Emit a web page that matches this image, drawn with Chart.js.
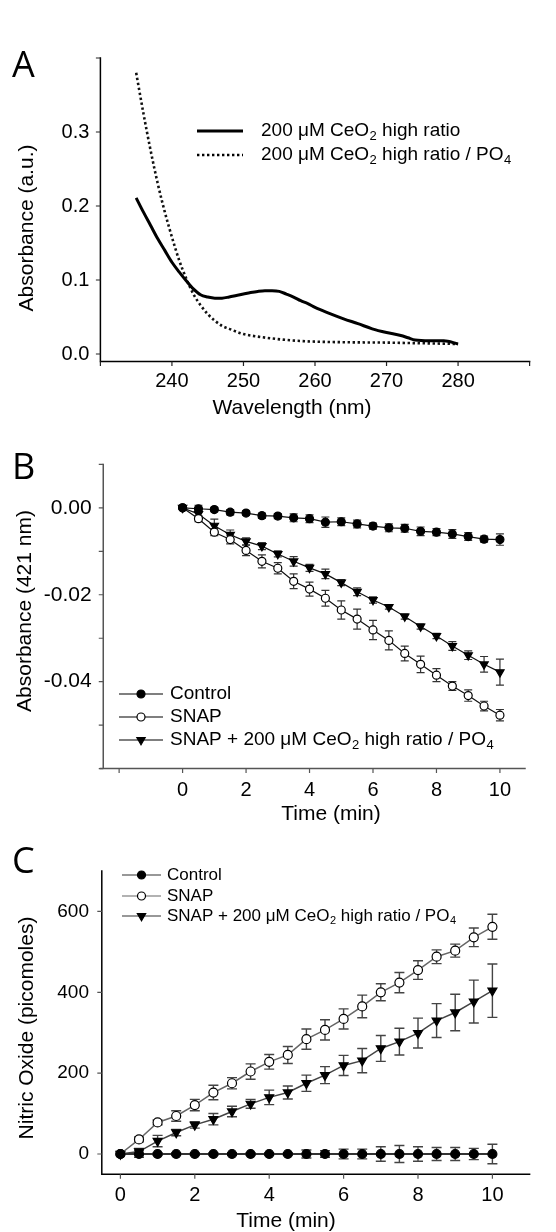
<!DOCTYPE html>
<html><head><meta charset="utf-8">
<script src="https://cdn.jsdelivr.net/npm/chart.js@4.4.1/dist/chart.umd.min.js"></script>
<style>
html,body{margin:0;padding:0;background:#fff}
body{width:556px;height:1232px;position:relative;overflow:hidden}
canvas{position:absolute;left:0}
</style></head><body>
<canvas id="cA" width="556" height="425" style="top:0px"></canvas>
<canvas id="cB" width="556" height="405" style="top:425px"></canvas>
<canvas id="cC" width="556" height="402" style="top:830px"></canvas>
<script>
// ---------- Panel A data ----------
const aSolidWl  = [235,236,237,238,239,240,241,242,243,244,245,246,247,248,249,250,251,252,253,254,255,256,257,258,259,260,262,264,266,268,270,272,273,274,276,278,280];
const aSolidAbs = [0.211,0.192,0.174,0.156,0.140,0.124,0.111,0.099,0.088,0.080,0.077,0.0755,0.0755,0.077,0.079,0.081,0.083,0.0846,0.0855,0.0855,0.0846,0.081,0.077,0.072,0.068,0.063,0.055,0.0475,0.041,0.034,0.029,0.025,0.022,0.019,0.018,0.018,0.0136];
const aDotWl    = [235,236,237,238,239,240,241,242,243,244,245,246,247,248,250,252,254,256,258,260,265,270,275,280];
const aDotAbs   = [0.38,0.326,0.276,0.231,0.192,0.158,0.127,0.102,0.081,0.066,0.054,0.045,0.038,0.034,0.027,0.0235,0.021,0.019,0.0176,0.0167,0.0158,0.0154,0.0145,0.0136];
const aSeries   = ['200 μM CeO₂ high ratio','200 μM CeO₂ high ratio / PO₄'];
const aXTicks   = [230,240,250,260,270,280,290];
const aXLabels  = ['','240','250','260','270','280',''];
const aYTicks   = [0,0.1,0.2,0.3,0.4];
const aYLabels  = ['0.0','0.1','0.2','0.3',''];

// ---------- Panel B / C shared ----------
const timeMin = [0,0.5,1,1.5,2,2.5,3,3.5,4,4.5,5,5.5,6,6.5,7,7.5,8,8.5,9,9.5,10];
const groups  = ['Control','SNAP','SNAP + 200 μM CeO₂ high ratio / PO₄'];

// ---------- Panel B data ----------
const bControl    = [0,-0.0002,-0.0004,-0.001,-0.0012,-0.0018,-0.0019,-0.0023,-0.0025,-0.0033,-0.0032,-0.0037,-0.0042,-0.0046,-0.0047,-0.0054,-0.0056,-0.006,-0.0066,-0.0072,-0.0073];
const bControlErr = [0,0.0008,0.0005,0.0006,0.0005,0.0006,0.0006,0.0009,0.0009,0.0012,0.0009,0.0009,0.0007,0.0009,0.0009,0.001,0.0008,0.001,0.0009,0.0007,0.0013];
const bSnap       = [0,-0.0025,-0.0056,-0.0073,-0.0098,-0.0123,-0.0139,-0.0169,-0.0187,-0.0208,-0.0235,-0.0256,-0.0281,-0.0305,-0.0335,-0.036,-0.0385,-0.041,-0.0432,-0.0456,-0.0477];
const bSnapErr    = [0,0.0007,0.0008,0.001,0.0012,0.0015,0.0013,0.0017,0.0016,0.0018,0.0021,0.0023,0.0022,0.0022,0.0017,0.0019,0.0015,0.001,0.0013,0.0011,0.0013];
const bCeo        = [0,-0.0014,-0.0041,-0.0062,-0.0077,-0.0088,-0.0106,-0.0123,-0.0138,-0.0152,-0.0172,-0.0193,-0.0212,-0.0228,-0.025,-0.0273,-0.0295,-0.0318,-0.0339,-0.036,-0.0378];
const bCeoErr     = [0,0.0008,0.0015,0.0011,0.0008,0.0008,0.0007,0.0011,0.0008,0.0011,0.0007,0.0009,0.0007,0.0005,0.0006,0.0006,0.0006,0.001,0.001,0.0018,0.003];
const bXTicks  = [-2,0,2,4,6,8,10];
const bXLabels = ['','0','2','4','6','8','10'];
const bYTicks  = [0.01,0,-0.01,-0.02,-0.03,-0.04,-0.05,-0.06];
const bYLabels = ['','0.00','','-0.02','','-0.04','',''];

// ---------- Panel C data ----------
const cControl    = [0,0,0,0,0,0,0,0,0,0,0,0,0,0,0,0,0,0,0,0,0];
const cControlErr = [0,8,3,3,3,3,3,3,3,3,10,8,12,12,18,21,18,16,16,14,24];
const cSnap       = [0,36,78,94,121,152,175,204,228,245,284,307,334,365,400,424,455,488,503,536,562];
const cSnapErr    = [0,6,6,13,14,18,14,19,18,21,25,25,25,28,21,25,23,17,16,23,31];
const cCeo        = [0,6,32,53,72,86,105,124,140,152,175,195,219,231,261,278,299,330,350,377,404];
const cCeoErr     = [0,8,14,8,8,14,13,11,18,16,20,21,25,30,32,33,37,42,45,53,66];
const cXTicks  = [0,2,4,6,8,10];
const cXLabels = ['0','2','4','6','8','10'];
const cYTicks  = [0,200,400,600];
const cYLabels = ['0','200','400','600'];

// ---------- helpers ----------
const FONT = "'Liberation Sans', Arial, sans-serif";
const SUB = '₀₁₂₃₄₅₆₇₈₉';
function pts(xs, ys){ return xs.map((x,i)=>({x:x, y:ys[i]})); }

function drawRich(ctx, text, x, y, size, color){
  ctx.fillStyle = color; ctx.textAlign = 'left'; ctx.textBaseline = 'middle';
  let run = '', cx = x;
  const flush = () => { if(run){ ctx.font = size+'px '+FONT; ctx.fillText(run, cx, y); cx += ctx.measureText(run).width; run=''; } };
  for (const ch of text){
    const k = SUB.indexOf(ch);
    if (k >= 0){
      flush();
      const s = Math.round(size*0.66);
      ctx.font = s+'px '+FONT;
      ctx.fillText(String(k), cx+0.5, y + size*0.28);
      cx += ctx.measureText(String(k)).width + 0.5;
    } else run += ch;
  }
  flush();
}

function marker(ctx, style, x, y, r){
  ctx.save();
  ctx.lineWidth = 1.2; ctx.strokeStyle = '#000';
  ctx.fillStyle = style === 'open' ? '#fff' : '#000';
  Chart.helpers.drawPoint(ctx, {pointStyle: style==='tri' ? 'triangle' : 'circle', rotation: style==='tri' ? 180 : 0, radius: r, borderWidth: 1.2}, x, y);
  ctx.restore();
}

const deco = {
  id: 'deco',
  beforeDatasetsDraw(chart, args, o){
    const ctx = chart.ctx, xs = chart.scales.x, ys = chart.scales.y, ca = chart.chartArea;
    const yAxX = (o.yAxisAt === undefined) ? ca.left : xs.getPixelForValue(o.yAxisAt);
    ctx.save();
    ctx.lineCap = 'square';
    ctx.strokeStyle = o.axisColor; ctx.lineWidth = o.axisWidth;
    ctx.beginPath();
    ctx.moveTo(ca.left, ca.bottom); ctx.lineTo(ca.right, ca.bottom);
    ctx.moveTo(yAxX, ca.top); ctx.lineTo(yAxX, ca.bottom);
    ctx.stroke();
    ctx.lineCap = 'butt';
    ctx.strokeStyle = o.tickColor; ctx.lineWidth = 1.2;
    ctx.beginPath();
    xs.ticks.forEach(t => { const p = xs.getPixelForValue(t.value); ctx.moveTo(p, ca.bottom); ctx.lineTo(p, ca.bottom + o.tickLen); });
    ys.ticks.forEach(t => { const p = ys.getPixelForValue(t.value); ctx.moveTo(yAxX - o.tickLen, p); ctx.lineTo(yAxX, p); });
    ctx.stroke();
    // error bars
    chart.data.datasets.forEach(ds => {
      if (!ds.errors) return;
      ctx.strokeStyle = ds.errorColor; ctx.lineWidth = ds.errorWidth;
      ctx.beginPath();
      ds.data.forEach((p, j) => {
        const e = ds.errors[j]; if (!e) return;
        const x = xs.getPixelForValue(p.x);
        const y1 = ys.getPixelForValue(p.y + e), y2 = ys.getPixelForValue(p.y - e);
        const c = ds.errorCap;
        ctx.moveTo(x, y1); ctx.lineTo(x, y2);
        ctx.moveTo(x - c, y1); ctx.lineTo(x + c, y1);
        ctx.moveTo(x - c, y2); ctx.lineTo(x + c, y2);
      });
      ctx.stroke();
    });
    ctx.restore();
  },
  afterDraw(chart, args, o){
    const ctx = chart.ctx, off = o.offset;
    ctx.save();
    // panel letter
    ctx.fillStyle = '#000'; ctx.textAlign = 'left'; ctx.textBaseline = 'alphabetic';
    ctx.font = o.letter.size + "px 'Open Sans', 'Liberation Sans', sans-serif";
    ctx.fillText(o.letter.text, o.letter.x, o.letter.y - off);
    // x title
    ctx.font = o.xTitle.size + 'px ' + FONT; ctx.textAlign = 'center'; ctx.textBaseline = 'middle';
    ctx.fillText(o.xTitle.text, o.xTitle.x, o.xTitle.y - off);
    // y title
    ctx.save();
    ctx.translate(o.yTitle.x, o.yTitle.y - off); ctx.rotate(-Math.PI/2);
    ctx.font = o.yTitle.size + 'px ' + FONT;
    ctx.fillText(o.yTitle.text, 0, 0);
    ctx.restore();
    // legend
    const L = o.legend;
    L.items.forEach((it, i) => {
      const y = L.rows[i] - off;
      ctx.save();
      ctx.strokeStyle = it.lineColor || '#000'; ctx.lineWidth = it.lineWidth || 1.2;
      if (it.dash) ctx.setLineDash(it.dash);
      ctx.beginPath(); ctx.moveTo(L.x1, y); ctx.lineTo(L.x2, y); ctx.stroke();
      ctx.restore();
      if (it.marker) marker(ctx, it.marker, (L.x1 + L.x2)/2, y, it.r);
      drawRich(ctx, it.label, L.tx, y, L.size, '#000');
    });
    ctx.restore();
  }
};

function scaleX(min, max, ticks, labels, size, pad, h){
  return { type:'linear', min, max,
    afterBuildTicks: s => { s.ticks = ticks.map(v => ({value: v})); },
    afterFit: s => { s.height = h; },
    ticks: { callback: (v, i) => labels[i], font:{family: FONT, size}, color:'#000', padding: pad, autoSkip:false, maxRotation:0, minRotation:0 },
    grid: { display:false, drawTicks:false }, border: { display:false } };
}
function scaleY(min, max, ticks, labels, size, pad, w){
  return { type:'linear', min, max,
    afterBuildTicks: s => { s.ticks = ticks.map(v => ({value: v})); },
    afterFit: s => { s.width = w; },
    ticks: { callback: (v, i) => labels[i], font:{family: FONT, size}, color:'#000', padding: pad, autoSkip:false },
    grid: { display:false, drawTicks:false }, border: { display:false } };
}
const basePlugins = { legend:{display:false}, tooltip:{enabled:false}, title:{display:false} };

// ---------- Chart A ----------
new Chart(document.getElementById('cA'), {
  type: 'line',
  data: { datasets: [
    { label: aSeries[0], data: pts(aSolidWl, aSolidAbs), borderColor:'#000', borderWidth:3, pointRadius:0, cubicInterpolationMode:'monotone', fill:false },
    { label: aSeries[1], data: pts(aDotWl, aDotAbs), borderColor:'#111', borderWidth:2.6, borderDash:[2.4,2.6], pointRadius:0, cubicInterpolationMode:'monotone', fill:false }
  ]},
  options: {
    responsive:false, animation:false, events:[],
    layout:{ padding:{ top:58, right:26.4, left:0, bottom:0 } },
    scales: { x: scaleX(230, 290, aXTicks, aXLabels, 20, 8, 63.6), y: scaleY(-0.01, 0.4, aYTicks, aYLabels, 20, 11, 100.4) },
    plugins: Object.assign({}, basePlugins, { deco: {
      offset: 0, axisColor:'#000', axisWidth:1.5, tickColor:'#222', tickLen:4.5,
      letter:{ text:'A', x:12, y:77, size:36 },
      xTitle:{ text:'Wavelength (nm)', x:292, y:408, size:21 },
      yTitle:{ text:'Absorbance (a.u.)', x:27, y:228, size:21 },
      legend:{ x1:197, x2:243, tx:261, size:19, rows:[131,155], items:[
        { label: aSeries[0], lineWidth:3 },
        { label: aSeries[1], lineWidth:2.6, dash:[2.4,2.6] } ] }
    }})
  },
  plugins:[deco]
});

// ---------- Chart B ----------
function seriesB(label, vals, errs, style){
  return { label, data: pts(timeMin, vals), errors: errs, errorColor:'#333', errorWidth:1.2, errorCap:4,
    borderColor:'#111', borderWidth:1.2, tension:0, fill:false,
    pointStyle: style==='tri' ? 'triangle' : 'circle', pointRotation: style==='tri' ? 180 : 0,
    pointRadius: style==='tri' ? 4.8 : 4, pointBorderWidth:1.2, pointBorderColor:'#000',
    pointBackgroundColor: style==='open' ? '#fff' : '#000' };
}
new Chart(document.getElementById('cB'), {
  type: 'line',
  data: { datasets: [
    seriesB(groups[0], bControl, bControlErr, 'fill'),
    seriesB(groups[1], bSnap, bSnapErr, 'open'),
    seriesB(groups[2], bCeo, bCeoErr, 'tri')
  ]},
  options: {
    responsive:false, animation:false, events:[],
    layout:{ padding:{ top:39.4, right:31, left:0, bottom:0 } },
    scales: { x: scaleX(-2.59, 10.79, bXTicks, bXLabels, 20, 9.4, 61.4), y: scaleY(-0.06, 0.01, bYTicks, bYLabels, 21, 8.7, 100.4) },
    plugins: Object.assign({}, basePlugins, { deco: {
      offset: 425, axisColor:'#555', axisWidth:1.5, tickColor:'#555', tickLen:4.5, yAxisAt:-2.5,
      letter:{ text:'B', x:12, y:479, size:36 },
      xTitle:{ text:'Time (min)', x:331, y:814, size:21 },
      yTitle:{ text:'Absorbance (421 nm)', x:25, y:611, size:21 },
      legend:{ x1:119, x2:163, tx:170, size:19, rows:[694,717,740], items:[
        { label: groups[0], marker:'fill', r:4 },
        { label: groups[1], marker:'open', r:4 },
        { label: groups[2], marker:'tri', r:4.8 } ] }
    }})
  },
  plugins:[deco]
});

// ---------- Chart C ----------
function seriesC(label, vals, errs, style, lineColor, lw){
  return { label, data: pts(timeMin, vals), errors: errs, errorColor:'#444', errorWidth:1.4, errorCap:5,
    borderColor: lineColor, borderWidth: lw, tension:0, fill:false,
    pointStyle: style==='tri' ? 'triangle' : 'circle', pointRotation: style==='tri' ? 180 : 0,
    pointRadius: style==='tri' ? 5.2 : 4.5, pointBorderWidth:1.2, pointBorderColor:'#000',
    pointBackgroundColor: style==='open' ? '#fff' : '#000' };
}
new Chart(document.getElementById('cC'), {
  type: 'line',
  data: { datasets: [
    seriesC(groups[0], cControl, cControlErr, 'fill', '#333', 2),
    seriesC(groups[1], cSnap, cSnapErr, 'open', '#666', 1.5),
    seriesC(groups[2], cCeo, cCeoErr, 'tri', '#444', 1.5)
  ]},
  options: {
    responsive:false, animation:false, events:[],
    layout:{ padding:{ top:41, right:26.4, left:0, bottom:0 } },
    scales: { x: scaleX(-0.5, 11, cXTicks, cXLabels, 20, 9, 57.8), y: scaleY(-50, 700, cYTicks, cYLabels, 19, 12.8, 101.8) },
    plugins: Object.assign({}, basePlugins, { deco: {
      offset: 830, axisColor:'#000', axisWidth:1.5, tickColor:'#555', tickLen:4.5,
      letter:{ text:'C', x:12, y:873, size:36 },
      xTitle:{ text:'Time (min)', x:286, y:1221, size:21 },
      yTitle:{ text:'Nitric Oxide (picomoles)', x:27, y:1028, size:21 },
      legend:{ x1:122, x2:161, tx:167, size:17, rows:[875,896,916], items:[
        { label: groups[0], marker:'fill', r:4, lineColor:'#333' },
        { label: groups[1], marker:'open', r:4, lineColor:'#666' },
        { label: groups[2], marker:'tri', r:4.8, lineColor:'#333' } ] }
    }})
  },
  plugins:[deco]
});
</script>
</body></html>
